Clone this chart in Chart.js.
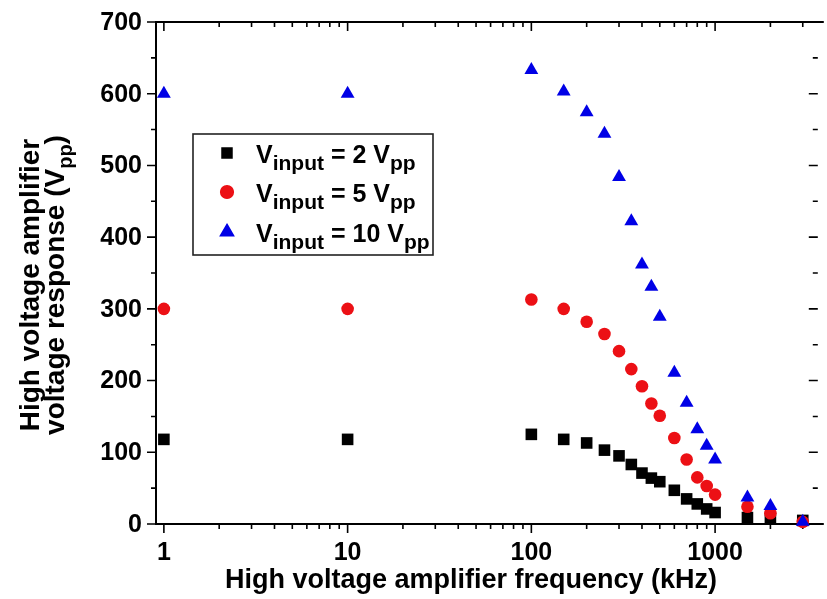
<!DOCTYPE html>
<html>
<head>
<meta charset="utf-8">
<script src="https://cdn.jsdelivr.net/npm/chart.js@4.4.1/dist/chart.umd.min.js"></script>
<style>
  html, body { margin: 0; padding: 0; background: #ffffff; }
  #wrap { width: 827px; height: 599px; }
</style>
</head>
<body>
<div id="wrap"><canvas id="c" width="827" height="599"></canvas></div>
<script>
// ---- data ----
const freqKHz = [1, 10, 100, 150, 200, 250, 300, 350, 400, 450, 500, 600, 700, 800, 900, 1000, 1500, 2000, 3000];
const resp2Vpp = [118, 118, 125, 118, 113, 103, 95, 83, 71, 64, 59, 47, 35, 28, 21, 16, 9, 8, 5];
const resp5Vpp = [300, 300, 313, 300, 282, 265, 241, 216, 192, 168, 151, 120, 90, 65, 53, 41, 24, 15, 3];
const resp10Vpp = [600, 600, 633, 603, 574, 544, 484, 422, 362, 331, 289, 211, 169, 132, 109, 90, 37, 25, 3];
const inputAmplitudes = ['2', '5', '10'];
const seriesColors = ['#000000', '#ec1015', '#0000e6'];
const seriesStyles = ['rect', 'circle', 'triangle'];
const xTickLabels = [1, 10, 100, 1000];
const yTickLabels = [0, 100, 200, 300, 400, 500, 600, 700];
const xTitle = 'High voltage amplifier frequency (kHz)';
const yTitleLine1 = 'High voltage amplifier';
const yTitleLine2 = 'voltage response (V';

const FONT = '"Liberation Sans", Arial, sans-serif';

function pts(vals) { return freqKHz.map((f, i) => ({ x: f, y: vals[i] })); }

const radii = [8.2, 6.3, 8];

const axesPlugin = {
  id: 'axesPlugin',
  beforeDatasetsDraw(chart) {
    const ctx = chart.ctx, a = chart.chartArea;
    const xs = chart.scales.x, ys = chart.scales.y;
    const right = a.right - 2;
    ctx.save();
    ctx.strokeStyle = '#000';
    ctx.lineWidth = 2;
    ctx.beginPath();
    ctx.moveTo(a.right + 5, a.top); ctx.lineTo(a.left, a.top);
    ctx.lineTo(a.left, a.bottom); ctx.lineTo(a.right + 5, a.bottom);
    ctx.stroke();
    ctx.lineWidth = 1.6;
    // x ticks
    for (let d = 1; d <= 1000; d *= 10) {
      for (let m = 1; m <= 9; m++) {
        const v = d * m;
        if (v > xs.max || v < xs.min) continue;
        const px = xs.getPixelForValue(v);
        const len = m === 1 ? 9 : 5;
        ctx.beginPath();
        ctx.moveTo(px, a.bottom); ctx.lineTo(px, a.bottom + len);
        ctx.moveTo(px, a.top); ctx.lineTo(px, a.top + len);
        ctx.stroke();
      }
    }
    // y ticks
    for (let v = 0; v <= 700; v += 50) {
      const py = ys.getPixelForValue(v);
      const len = v % 100 === 0 ? 9 : 5;
      ctx.beginPath();
      ctx.moveTo(a.left, py); ctx.lineTo(a.left - len, py);
      ctx.moveTo(right + 1, py); ctx.lineTo(right + 1 - len, py);
      ctx.stroke();
    }
    ctx.restore();
  },
  afterDraw(chart) {
    const ctx = chart.ctx, a = chart.chartArea;
    const xs = chart.scales.x, ys = chart.scales.y;
    ctx.save();
    ctx.fillStyle = '#000';
    // tick labels
    ctx.font = 'bold 25px ' + FONT;
    ctx.textAlign = 'center';
    ctx.textBaseline = 'alphabetic';
    xTickLabels.forEach(v => {
      ctx.fillText(String(v), xs.getPixelForValue(v), 560);
    });
    ctx.textAlign = 'right';
    ctx.textBaseline = 'middle';
    yTickLabels.forEach(v => {
      ctx.fillText(String(v), a.left - 14, ys.getPixelForValue(v) + 1);
    });
    // x title
    ctx.font = 'bold 27px ' + FONT;
    ctx.textAlign = 'center';
    ctx.textBaseline = 'alphabetic';
    ctx.fillText(xTitle, 471, 588);
    // y title (rotated)
    const yc = 285;
    ctx.save();
    ctx.translate(39, yc);
    ctx.rotate(-Math.PI / 2);
    ctx.font = 'bold 28px ' + FONT;
    ctx.textAlign = 'center';
    ctx.fillText(yTitleLine1, 0, 0);
    ctx.restore();
    ctx.save();
    ctx.translate(64, yc);
    ctx.rotate(-Math.PI / 2);
    ctx.textAlign = 'left';
    const f1 = 'bold 28px ' + FONT, f2 = 'bold 20px ' + FONT;
    ctx.font = f1; const w1 = ctx.measureText(yTitleLine2).width;
    ctx.font = f2; const w2 = ctx.measureText('pp').width;
    ctx.font = f1; const w3 = ctx.measureText(')').width;
    let x0 = -(w1 + w2 + w3) / 2;
    ctx.font = f1; ctx.fillText(yTitleLine2, x0, 0); x0 += w1;
    ctx.font = f2; ctx.fillText('pp', x0, 8); x0 += w2;
    ctx.font = f1; ctx.fillText(')', x0, 0);
    ctx.restore();

    // legend
    const L = { left: 193, top: 134, right: 433, bottom: 255 };
    ctx.lineWidth = 1.6;
    ctx.strokeStyle = '#222';
    ctx.strokeRect(L.left, L.top, L.right - L.left, L.bottom - L.top);
    const rowMarkY = [153, 192, 232];
    const rowBase = [163, 202, 242];
    const legRad = [7, 6.3, 7.5];
    for (let i = 0; i < 3; i++) {
      ctx.fillStyle = seriesColors[i];
      ctx.strokeStyle = seriesColors[i];
      Chart.helpers.drawPoint(ctx, { pointStyle: seriesStyles[i], radius: legRad[i], rotation: 0, borderWidth: 1 }, 227, rowMarkY[i]);
      ctx.fill();
      ctx.fillStyle = '#000';
      let x = 256;
      const big = 'bold 25px ' + FONT, small = 'bold 21px ' + FONT;
      const parts = [
        ['V', big, 0], ['input', small, 7], [' = ' + inputAmplitudes[i] + ' V', big, 0], ['pp', small, 7]
      ];
      ctx.textAlign = 'left';
      ctx.textBaseline = 'alphabetic';
      parts.forEach(p => {
        ctx.font = p[1];
        ctx.fillText(p[0], x, rowBase[i] + p[2]);
        x += ctx.measureText(p[0]).width;
      });
    }
    ctx.restore();
  }
};

new Chart(document.getElementById('c'), {
  type: 'scatter',
  data: {
    datasets: [
      { label: '2 Vpp', data: pts(resp2Vpp), order: 3 },
      { label: '5 Vpp', data: pts(resp5Vpp), order: 2 },
      { label: '10 Vpp', data: pts(resp10Vpp), order: 1 }
    ].map((d, i) => Object.assign(d, {
      pointStyle: seriesStyles[i],
      pointRadius: radii[i],
      pointHoverRadius: radii[i],
      backgroundColor: seriesColors[i],
      borderColor: seriesColors[i],
      borderWidth: 0,
      clip: false
    }))
  },
  options: {
    responsive: false,
    animation: false,
    devicePixelRatio: 1,
    layout: { padding: { left: 156, top: 22, right: 0, bottom: 75 } },
    plugins: { legend: { display: false }, tooltip: { enabled: false } },
    scales: {
      x: { type: 'logarithmic', min: 0.906, max: 3668, display: false },
      y: { type: 'linear', min: 0, max: 700, display: false }
    }
  },
  plugins: [axesPlugin]
});
</script>
</body>
</html>
